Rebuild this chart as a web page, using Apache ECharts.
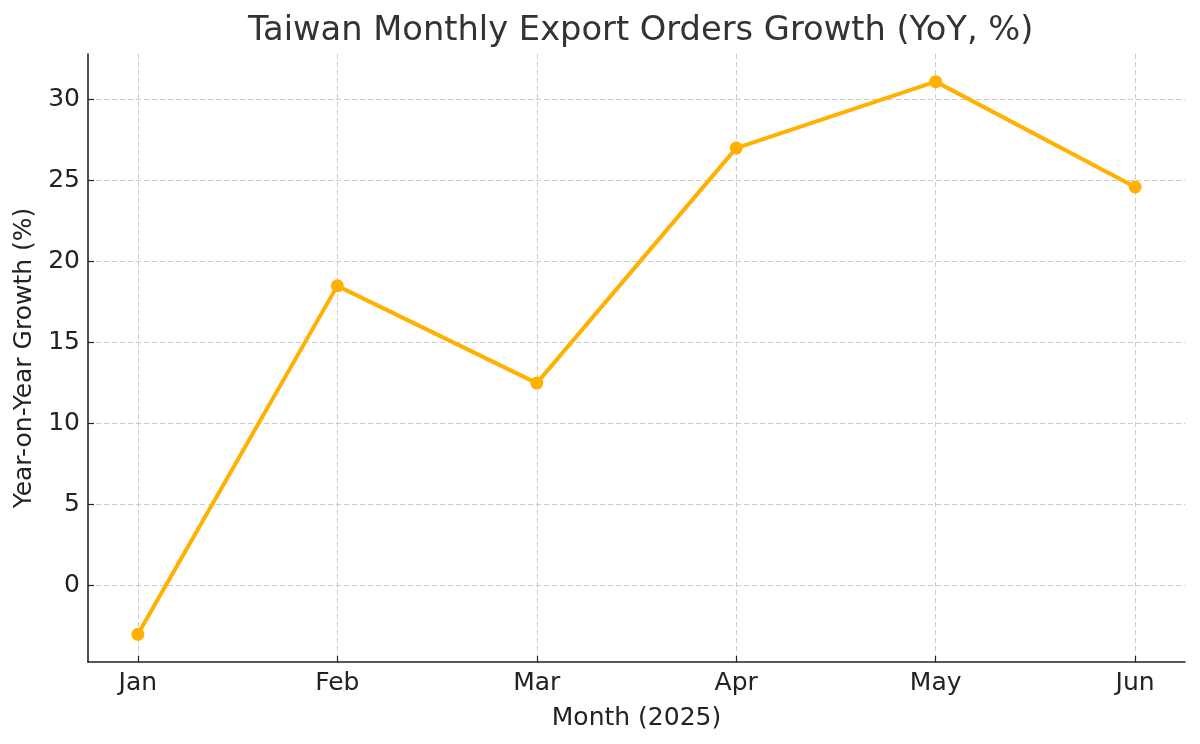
<!DOCTYPE html>
<html>
<head>
<meta charset="utf-8">
<script src="https://cdn.jsdelivr.net/npm/echarts@6/dist/echarts.min.js"></script>
<style>html,body{margin:0;padding:0;background:#fff}#c{width:1200px;height:744px}</style>
</head>
<body>
<div id="c"></div>
<script>
const months = ['Jan', 'Feb', 'Mar', 'Apr', 'May', 'Jun'];
const growth = [-3.0, 18.5, 12.5, 27.0, 31.1, 24.6];
const yTicks = [0, 5, 10, 15, 20, 25, 30];
const xTicks = [0, 1, 2, 3, 4, 5];

const FONT = 'DejaVu Sans';
const chart = echarts.init(document.getElementById('c'), null, {renderer: 'canvas'});
const yMin = -4.705, yMax = 32.805;
const gridLine = {show: true, lineStyle: {color: '#cccccc', width: 1, type: [5, 3]}};
chart.setOption({
  animation: false,
  backgroundColor: '#ffffff',
  title: {
    text: 'Taiwan Monthly Export Orders Growth (YoY, %)',
    left: 243, top: 9,
    textStyle: {fontFamily: FONT, fontSize: 33.7, fontWeight: 'normal', color: '#333333'}
  },
  grid: {left: 88, right: 15, top: 54, bottom: 82, outerBoundsMode: 'none', containLabel: false},
  xAxis: {
    type: 'value', min: -0.25, max: 5.25,
    name: 'Month (2025)', nameLocation: 'middle', nameGap: 44,
    nameTextStyle: {fontFamily: FONT, fontSize: 25, color: '#222222'},
    axisLine: {show: true, onZero: false, lineStyle: {color: '#222222', width: 1.6}},
    axisTick: {show: true, inside: true, length: 6, customValues: xTicks, lineStyle: {color: '#222222', width: 1.2}},
    axisLabel: {customValues: xTicks, margin: 9, fontFamily: FONT, fontSize: 25, color: '#222222',
      formatter: v => months[Math.round(v)]},
    splitLine: gridLine
  },
  yAxis: {
    type: 'value', min: yMin, max: yMax,
    name: 'Year-on-Year Growth (%)', nameLocation: 'middle', nameGap: 47,
    nameTextStyle: {fontFamily: FONT, fontSize: 25, color: '#222222'},
    axisLine: {show: true, onZero: false, lineStyle: {color: '#222222', width: 1.6}},
    axisTick: {show: true, inside: true, length: 6, customValues: yTicks, lineStyle: {color: '#222222', width: 1.2}},
    axisLabel: {customValues: yTicks, margin: 8, fontFamily: FONT, fontSize: 25, color: '#222222'},
    splitLine: gridLine
  },
  series: [{
    type: 'line',
    data: growth.map((v, i) => [xTicks[i], v]),
    symbol: 'circle', symbolSize: 13,
    lineStyle: {color: '#FFB000', width: 4},
    itemStyle: {color: '#FFB000'},
    z: 5
  }]
});
</script>
</body>
</html>
